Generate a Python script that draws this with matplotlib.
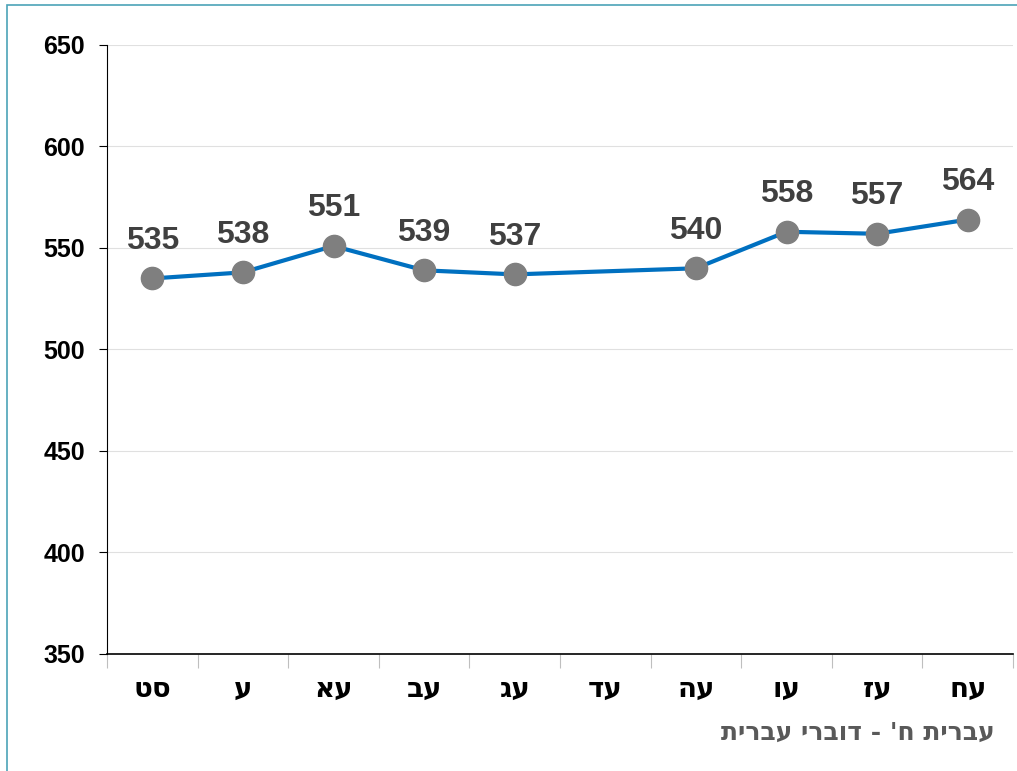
import numpy as np
import matplotlib
matplotlib.use("Agg")
import matplotlib.pyplot as plt
from matplotlib.patches import Rectangle

# Data (Hebrew in logical order; reversed only for drawing)
years = ["סט", "ע", "עא", "עב", "עג", "עד", "עה", "עו", "עז", "עח"]
scores = [535, 538, 551, 539, 537, np.nan, 540, 558, 557, 564]
y_ticks = [350, 400, 450, 500, 550, 600, 650]
x_title = "עברית ח' - דוברי עברית"

plt.rcParams['font.family'] = ['Liberation Sans', 'DejaVu Sans']
heb_font = ['DejaVu Sans']

def rtl(s):
    return s[::-1]

fig = plt.figure(figsize=(10.17, 7.71), dpi=100)
ax = fig.add_axes([107 / 1017, 1 - 654 / 771, 906 / 1017, 609 / 771])

x = np.arange(len(years))
vals = np.array(scores, dtype=float)
ok = ~np.isnan(vals)

ax.plot(x[ok], vals[ok], color='#0070C0', lw=3, zorder=3)
ax.plot(x[ok], vals[ok], 'o', ms=16, color='#7F7F7F', zorder=4)

for xi, v in zip(x[ok], vals[ok]):
    ax.annotate(f"{v:.0f}", (xi, v), xytext=(0, 27), textcoords='offset points',
                ha='center', va='center', fontsize=23, fontweight='bold',
                color='#404040')

ax.set_xlim(-0.5, len(years) - 0.5)
ax.set_ylim(350, 650)
ax.set_yticks(y_ticks)
ax.set_yticklabels([str(t) for t in y_ticks], fontsize=18, fontweight='bold')
ax.tick_params(axis='y', length=6, width=0.8, pad=10, colors='black')

ax.set_xticks(x)
ax.set_xticklabels([rtl(s) for s in years], fontsize=20, fontweight='bold',
                   family=heb_font)
ax.tick_params(axis='x', which='major', length=0, pad=15)
ax.set_xticks(np.arange(-0.5, len(years)), minor=True)
ax.tick_params(axis='x', which='minor', length=10, width=0.8, color='#BFBFBF')

ax.grid(axis='y', color='#E0E0E0', lw=0.8)
ax.set_axisbelow(True)
for s in ['top', 'right']:
    ax.spines[s].set_visible(False)
ax.spines['left'].set_linewidth(0.8)
ax.spines['bottom'].set_linewidth(1.2)

fig.text(995 / 1017, 1 - 733 / 771, rtl(x_title), ha='right', va='center',
         fontsize=18, fontweight='bold', color='#595959', family=heb_font)

fig.patches.append(Rectangle((7 / 1017, -0.1), 1.2, 0.1 + 1 - 5 / 771,
                             transform=fig.transFigure, fill=False,
                             edgecolor='#4BA3B8', lw=1.2))

fig.savefig("out.png", dpi=100)
